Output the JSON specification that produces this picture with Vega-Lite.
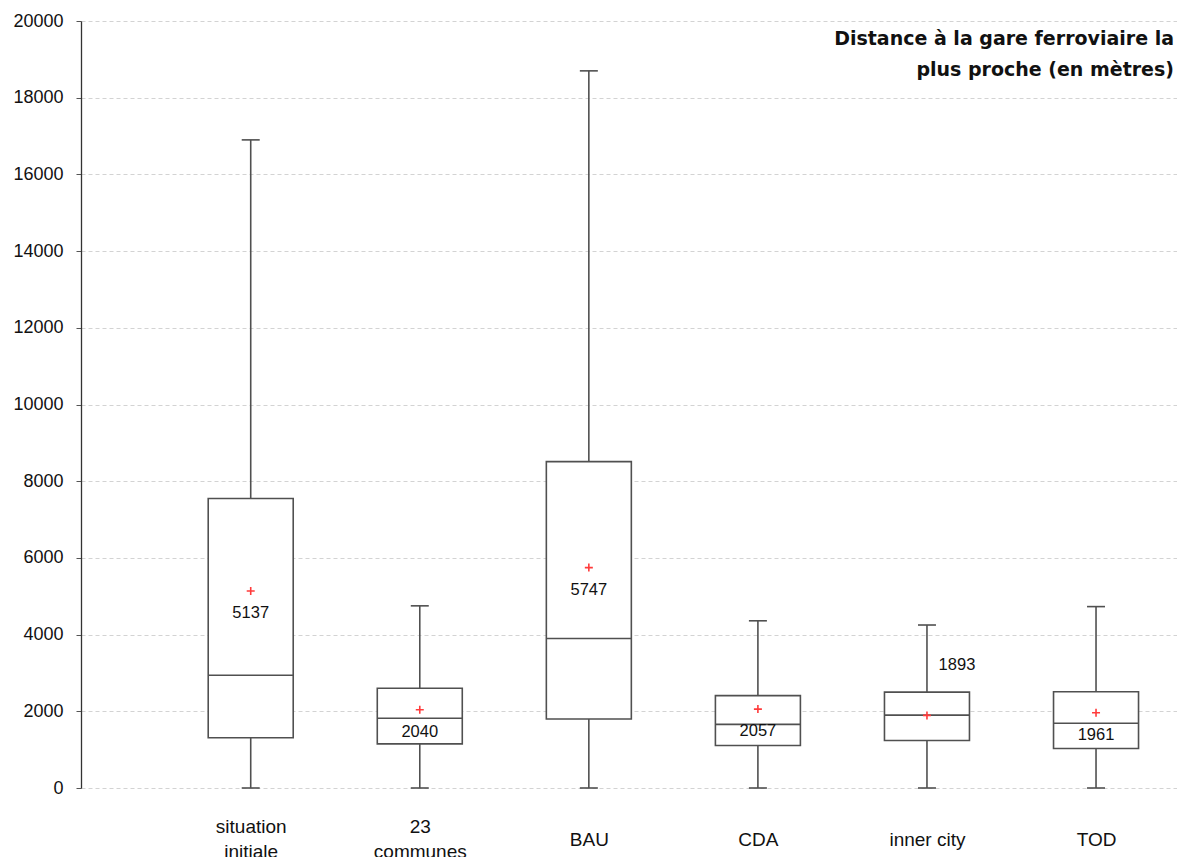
{
  "$schema": "https://vega.github.io/schema/vega-lite/v6.json",
  "width": 1096,
  "height": 767,
  "autosize": {"type": "none"},
  "padding": {"left": 81, "top": 21, "right": 0, "bottom": 69},
  "background": "white",
  "config": {"view": {"stroke": null}, "font": "Liberation Sans"},
  "title": {
    "text": ["Distance à la gare ferroviaire la", "plus proche (en mètres)"],
    "anchor": "end",
    "frame": "group",
    "orient": "top",
    "baseline": "top",
    "offset": 0,
    "dy": 68,
    "dx": -3,
    "fontSize": 19,
    "fontWeight": "bold",
    "color": "#111111",
    "lineHeight": 30.6,
    "font": "DejaVu Sans"
  },
  "data": {
    "values": [
      {"scenario": "situation initiale", "lower": 0, "q1": 1310, "median": 2940, "q3": 7550, "upper": 16900, "mean": 5137},
      {"scenario": "23 communes", "lower": 0, "q1": 1150, "median": 1820, "q3": 2600, "upper": 4750, "mean": 2040},
      {"scenario": "BAU", "lower": 0, "q1": 1800, "median": 3900, "q3": 8510, "upper": 18700, "mean": 5747},
      {"scenario": "CDA", "lower": 0, "q1": 1110, "median": 1660, "q3": 2410, "upper": 4360, "mean": 2057},
      {"scenario": "inner city", "lower": 0, "q1": 1240, "median": 1900, "q3": 2500, "upper": 4250, "mean": 1893},
      {"scenario": "TOD", "lower": 0, "q1": 1030, "median": 1690, "q3": 2510, "upper": 4730, "mean": 1961}
    ]
  },
  "encoding": {
    "x": {
      "field": "scenario",
      "type": "nominal",
      "sort": null,
      "scale": {"type": "point", "padding": 0.7414, "align": 0.677},
      "axis": {
        "title": null,
        "domain": false,
        "ticks": false,
        "tickSize": 0,
        "grid": false,
        "labelAngle": 0,
        "labelFontSize": 19,
        "labelColor": "#111111",
        "labelBaseline": {"condition": {"test": "datum.value == 'situation initiale' || datum.value == '23 communes'", "value": "line-bottom"}, "value": "middle"},
        "labelPadding": 51,
        "labelLineHeight": 25,
        "labelExpr": "datum.label == 'situation initiale' ? ['situation', 'initiale'] : datum.label == '23 communes' ? ['23', 'communes'] : datum.label"
      }
    }
  },
  "layer": [
    {
      "mark": {"type": "rule", "color": "#505050", "strokeWidth": 1.6},
      "encoding": {
        "y": {
          "field": "lower",
          "type": "quantitative",
          "scale": {"domain": [0, 20000], "nice": false},
          "axis": {
            "title": null,
            "values": [0, 2000, 4000, 6000, 8000, 10000, 12000, 14000, 16000, 18000, 20000],
            "format": "d",
            "domain": true,
            "domainColor": "#333333",
            "domainWidth": 1.3,
            "tickColor": "#555555",
            "tickSize": 5,
            "labelFontSize": 18,
            "labelColor": "#111111",
            "labelPadding": 13,
            "grid": true,
            "gridColor": "#d3d3d3",
            "gridDash": [4, 3],
            "gridWidth": 1
          }
        },
        "y2": {"field": "upper"}
      }
    },
    {
      "mark": {"type": "bar", "size": 85, "fill": "white", "stroke": "#505050", "strokeWidth": 1.6},
      "encoding": {
        "y": {"field": "q1", "type": "quantitative"},
        "y2": {"field": "q3"}
      }
    },
    {
      "mark": {"type": "tick", "size": 85, "thickness": 1.6, "color": "#505050", "opacity": 1},
      "encoding": {"y": {"field": "median", "type": "quantitative"}}
    },
    {
      "mark": {"type": "tick", "size": 18, "thickness": 1.6, "color": "#505050", "opacity": 1},
      "encoding": {"y": {"field": "upper", "type": "quantitative"}}
    },
    {
      "mark": {"type": "tick", "size": 18, "thickness": 1.6, "color": "#505050", "opacity": 1},
      "encoding": {"y": {"field": "lower", "type": "quantitative"}}
    },
    {
      "mark": {"type": "point", "shape": "M-1,0L1,0M0,-1L0,1", "filled": false, "stroke": "#ff3b3b", "strokeWidth": 1.6, "size": 64, "opacity": 1},
      "encoding": {"y": {"field": "mean", "type": "quantitative"}}
    },
    {
      "transform": [{"filter": "datum.scenario != 'inner city'"}],
      "mark": {"type": "text", "fontSize": 16.5, "color": "#111111", "dy": 22, "baseline": "middle", "align": "center"},
      "encoding": {
        "y": {"field": "mean", "type": "quantitative"},
        "text": {"field": "mean", "type": "quantitative", "format": "d"}
      }
    },
    {
      "transform": [{"filter": "datum.scenario == 'inner city'"}],
      "mark": {"type": "text", "fontSize": 16.5, "color": "#111111", "dx": 30, "dy": -50, "baseline": "middle", "align": "center"},
      "encoding": {
        "y": {"field": "mean", "type": "quantitative"},
        "text": {"field": "mean", "type": "quantitative", "format": "d"}
      }
    }
  ]
}
